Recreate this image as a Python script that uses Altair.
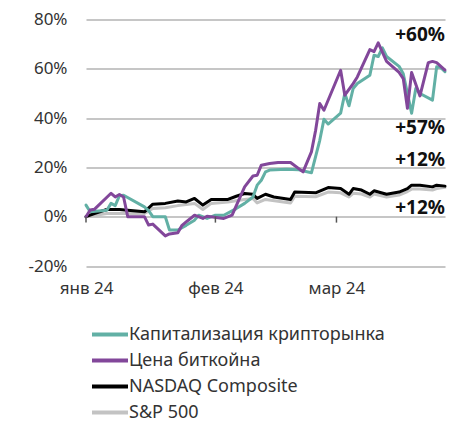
import altair as alt
import pandas as pd

START = "2024-01-01"
FONT = "Noto Sans"

series_names = ["Капитализация крипторынка", "Цена биткойна", "NASDAQ Composite", "S&P 500"]
series_colors = ["#62b0a5", "#82479a", "#000000", "#c3c3c3"]

# day offsets from 1 Jan 2024 and % change
cap_days = [0, 1, 5, 6, 7, 8, 9, 14, 15, 16, 19, 20, 22, 24, 26, 27, 29, 31, 33, 36, 38, 40, 41, 42, 43, 44,
            48, 51, 54, 56, 57, 58, 61, 62, 63, 64, 65, 68, 69, 70, 71, 72, 75, 76, 78, 79, 80, 83, 84, 85, 86]
cap_vals = [4.7, 2.0, 2.6, 5.4, 4.5, 8.5, 8.7, 4.0, 2.5, 0.0, 0.0, -5.4, -5.4, -3.5, -1.4, 0.6, -0.7, 0.6, 0.6, 3.3, 5.4, 8.0, 12.8, 14.8, 18.2, 18.9,
            19.2, 19.0, 17.8, 31.0, 39.5, 37.6, 42.0, 50.0, 45.0, 52.0, 54.0, 57.4, 65.5, 65.0, 68.5, 65.0, 61.0, 58.0, 42.0, 52.0, 50.0, 47.3, 60.8, 60.5, 58.8]

btc_days = [0, 1, 2, 6, 7, 8, 9, 10, 14, 15, 16, 19, 20, 22, 23, 24, 26, 28, 29, 33, 35, 38, 40, 41, 42, 44, 46, 49,
            52, 54, 55, 56, 57, 61, 62, 64, 65, 68, 69, 70, 72, 75, 76, 77, 78, 80, 82, 83, 84, 86]
btc_vals = [0.0, 2.7, 3.0, 9.5, 8.0, 9.0, 8.0, 0.0, 0.0, -3.4, -3.0, -7.8, -7.0, -6.5, -3.5, -2.1, 0.6, -0.7, 0.2, -0.7, 0.6, 12.1, 16.5, 16.8, 20.9, 21.6, 22.0, 22.0,
            18.2, 26.3, 35.0, 45.9, 43.2, 59.4, 49.3, 54.0, 56.7, 67.8, 67.0, 70.5, 63.0, 58.5, 56.0, 44.0, 58.5, 49.0, 62.5, 63.0, 62.5, 59.5]

ndx_days = [0, 2, 5, 8, 14, 16, 19, 22, 24, 26, 28, 30, 34, 36, 38, 40, 41, 43, 45, 49, 50, 55, 58, 61, 63, 64,
            66, 68, 69, 72, 75, 77, 78, 80, 83, 84, 86]
ndx_vals = [0.0, 1.3, 2.9, 2.9, 2.0, 5.1, 5.4, 6.4, 6.0, 7.4, 4.7, 7.0, 7.0, 8.3, 9.4, 9.1, 7.4, 9.1, 8.0, 7.0, 10.0, 9.7, 11.8, 11.4, 9.1, 11.4,
            10.8, 9.1, 10.5, 9.1, 10.0, 11.4, 12.8, 12.8, 12.1, 12.8, 12.4]

spx_days = [0, 2, 5, 14, 16, 19, 22, 26, 28, 30, 34, 38, 40, 41, 43, 49, 50, 55, 58, 61, 63, 64,
            66, 68, 69, 72, 75, 77, 78, 80, 83, 84, 86]
spx_vals = [0.0, 0.5, 1.3, 1.3, 3.3, 3.6, 4.5, 5.4, 2.9, 5.4, 6.0, 7.0, 7.4, 5.6, 7.0, 5.6, 8.3, 8.1, 10.0, 9.7, 8.0, 9.5,
            9.2, 8.0, 9.2, 8.0, 8.8, 10.2, 11.2, 11.2, 10.8, 11.4, 11.9]

end_labels = ["+60%", "+57%", "+12%", "+12%"]
end_label_y = [73.6, 35.8, 23.2, 3.7]

month_days = [0, 31, 60]
y_ticks = [-20, 0, 20, 40, 60, 80]


def to_dates(days):
    return pd.Timestamp(START) + pd.to_timedelta(days, unit="D")


def frame(name, days, vals):
    return pd.DataFrame({"date": to_dates(days), "value": vals, "series": name})


frames = {
    series_names[0]: frame(series_names[0], cap_days, cap_vals),
    series_names[1]: frame(series_names[1], btc_days, btc_vals),
    series_names[2]: frame(series_names[2], ndx_days, ndx_vals),
    series_names[3]: frame(series_names[3], spx_days, spx_vals),
}

x_scale = alt.Scale(domain=[alt.DateTime(year=2024, month=1, date=1), alt.DateTime(year=2024, month=3, date=27)])
y_scale = alt.Scale(domain=[-20, 80], nice=False)

x_enc = alt.X(
    "date:T", scale=x_scale, title=None,
    axis=alt.Axis(
        values=[alt.DateTime(year=2024, month=1, date=1), alt.DateTime(year=2024, month=2, date=1),
                alt.DateTime(year=2024, month=3, date=1)],
        labelExpr="['янв','фев','мар','апр'][month(datum.value)] + ' 24'",
        grid=False, ticks=False, domain=False, labelPadding=14, labelFlush=False,
    ),
)
y_enc = alt.Y(
    "value:Q", scale=y_scale, title=None,
    axis=alt.Axis(values=y_ticks, labelExpr="datum.value + '%'", grid=True, ticks=False, domain=False,
                  labelPadding=19, gridColor="#b3b3b3", gridWidth=1.5),
)
color_enc = alt.Color(
    "series:N",
    scale=alt.Scale(domain=series_names, range=series_colors),
    legend=alt.Legend(title=None),
)


def line_layer(name):
    return alt.Chart(frames[name]).mark_line(strokeWidth=3, strokeJoin="round", strokeCap="round").encode(
        x=x_enc, y=y_enc, color=color_enc
    )


months_df = pd.DataFrame({"date": to_dates(month_days), "y0": 0.0, "y1": -2.4})
ticks = alt.Chart(months_df).mark_rule(color="#555555", strokeWidth=1.5).encode(
    x=alt.X("date:T", scale=x_scale), y=alt.Y("y0:Q", scale=y_scale), y2="y1:Q"
)

labels_df = pd.DataFrame({"date": to_dates([86] * len(end_labels)), "value": end_label_y, "text": end_labels})
labels = alt.Chart(labels_df).mark_text(
    align="right", baseline="middle", fontWeight="bold", fontSize=19, font=FONT, color="#111111"
).encode(x=alt.X("date:T", scale=x_scale), y=alt.Y("value:Q", scale=y_scale), text="text:N")

chart = alt.layer(
    line_layer(series_names[3]),
    line_layer(series_names[2]),
    line_layer(series_names[0]),
    line_layer(series_names[1]),
    ticks,
    labels,
).properties(
    width=359,
    height=246.5,
    autosize=alt.AutoSizeParams(type="none"),
    padding={"left": 78, "top": 11.5, "right": 10, "bottom": 157},
).configure_view(stroke=None).configure_axis(
    labelFont=FONT, labelFontSize=17, labelColor="#333333"
).configure_legend(
    orient="none", legendX=15, legendY=306, direction="vertical",
    symbolType="M-3,0H3", symbolSize=144, symbolStrokeWidth=4,
    labelFont=FONT, labelFontSize=18, labelColor="#333333", labelOffset=10, labelLimit=400,
    rowPadding=8, padding=0,
)

chart.save("out.html", embed_options={"renderer": "svg", "actions": False})
